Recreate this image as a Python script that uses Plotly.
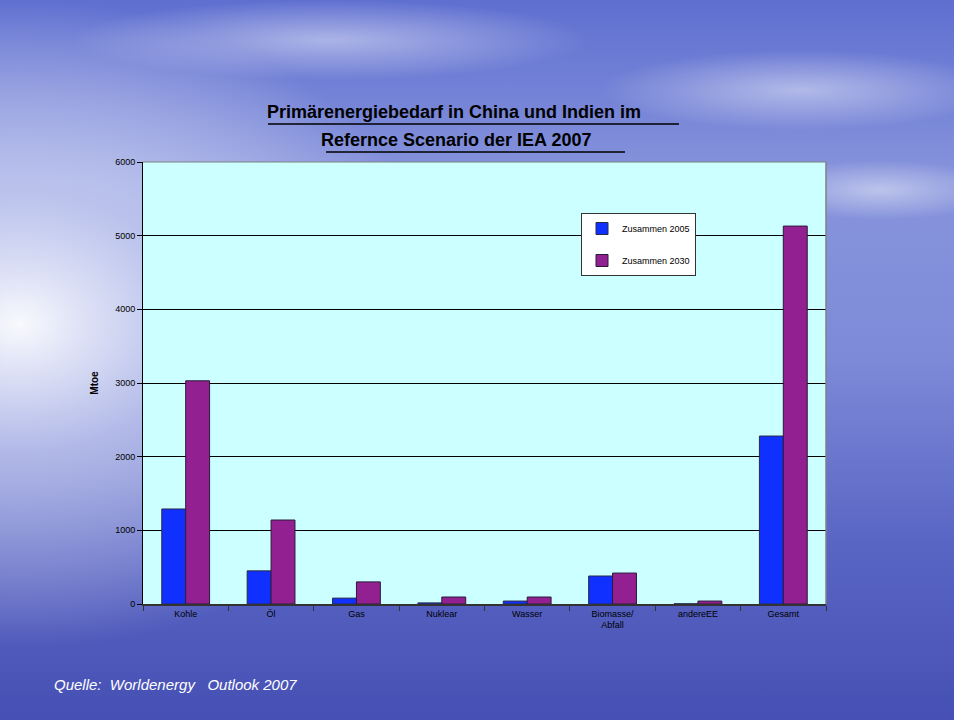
import plotly.graph_objects as go
import base64

categories = ["Kohle", "Öl", "Gas", "Nuklear", "Wasser", "Biomasse/<br>Abfall", "andereEE", "Gesamt"]
values_2005 = [1290, 450, 80, 15, 40, 380, 3, 2280]
values_2030 = [3030, 1140, 300, 95, 95, 420, 40, 5130]
series_names = ["Zusammen 2005", "Zusammen 2030"]
y_ticks = [0, 1000, 2000, 3000, 4000, 5000, 6000]

svg = """<svg xmlns='http://www.w3.org/2000/svg' width='954' height='720'>
<defs>
<linearGradient id='g' x1='0' y1='0' x2='0' y2='1'>
<stop offset='0' stop-color='#5f6fd0'/>
<stop offset='0.25' stop-color='#8794dc'/>
<stop offset='0.5' stop-color='#7d8ad8'/>
<stop offset='0.75' stop-color='#5a66c4'/>
<stop offset='1' stop-color='#4650b4'/>
</linearGradient>
<radialGradient id='r' cx='0.02' cy='0.45' r='0.45'>
<stop offset='0' stop-color='#ffffff' stop-opacity='0.95'/>
<stop offset='0.4' stop-color='#dfe3f8' stop-opacity='0.6'/>
<stop offset='1' stop-color='#ffffff' stop-opacity='0'/>
</radialGradient>
<radialGradient id='c' cx='0.5' cy='0.5' r='0.5'>
<stop offset='0' stop-color='#ffffff' stop-opacity='0.45'/>
<stop offset='1' stop-color='#ffffff' stop-opacity='0'/>
</radialGradient>
</defs>
<rect width='954' height='720' fill='url(#g)'/>
<rect width='954' height='720' fill='url(#r)'/>
<ellipse cx='330' cy='40' rx='260' ry='40' fill='url(#c)'/>
<ellipse cx='800' cy='90' rx='200' ry='40' fill='url(#c)'/>
<ellipse cx='880' cy='190' rx='120' ry='30' fill='url(#c)'/>
<rect x='143' y='162' width='683' height='442' fill='#ccffff'/>
</svg>"""
bg_src = "data:image/svg+xml;base64," + base64.b64encode(svg.encode()).decode()

fig = go.Figure()
fig.add_trace(go.Bar(x=categories, y=values_2005, name=series_names[0], legendgroup="a",
                     marker=dict(color="#1030ff", line=dict(color="#2a2a4a", width=1))))
fig.add_trace(go.Bar(x=categories, y=values_2030, name=series_names[1], legendgroup="b",
                     marker=dict(color="#922090", line=dict(color="#2a1a3a", width=1))))

fig.update_layout(
    width=954, height=720,
    margin=dict(l=143, r=128, t=162, b=116),
    paper_bgcolor="#6a78cc",
    plot_bgcolor="rgba(0,0,0,0)",
    barmode="group", bargap=0.44, bargroupgap=0,
    font=dict(family="Liberation Sans, Arial, sans-serif", color="black"),
    showlegend=True,
    legend=dict(x=(581-143)/683, y=(604-213)/442, xanchor="left", yanchor="top",
                bgcolor="white", bordercolor="#333333", borderwidth=1,
                font=dict(size=9), tracegroupgap=13, itemwidth=30),
    images=[dict(source=bg_src, xref="paper", yref="paper", x=-143/683, y=1+162/442,
                 sizex=954/683, sizey=720/442, xanchor="left", yanchor="top",
                 sizing="stretch", layer="below")],
    xaxis=dict(tickson="boundaries", ticks="outside", ticklen=5, tickcolor="#333",
               showline=True, linecolor="#333", linewidth=1.5,
               tickfont=dict(size=9, color="black"), showgrid=False),
    yaxis=dict(range=[0, 6000], tickvals=y_ticks, ticks="outside", ticklen=5,
               tickcolor="black", showline=True, linecolor="black", linewidth=1,
               gridcolor="black", gridwidth=1, zeroline=False,
               tickfont=dict(size=9, color="black"),
               title=dict(text="<b>Mtoe</b>", font=dict(size=10, color="black"), standoff=14)),
)

fig.add_shape(type="line", xref="paper", yref="paper", x0=1, x1=1, y0=0, y1=1,
              line=dict(color="#808080", width=1.5))
fig.add_shape(type="line", xref="paper", yref="paper", x0=0, x1=1, y0=1, y1=1,
              line=dict(color="#808080", width=1))

# Title lines with underlines
fig.add_annotation(text="<b>Primärenergiebedarf in China und Indien im</b>",
                   xref="paper", yref="paper", x=(454-143)/683, y=(604-112)/442,
                   showarrow=False, font=dict(size=18, color="black"),
                   xanchor="center", yanchor="middle")
fig.add_annotation(text="<b>Refernce Scenario der IEA 2007</b>",
                   xref="paper", yref="paper", x=(456-143)/683, y=(604-140)/442,
                   showarrow=False, font=dict(size=18, color="black"),
                   xanchor="center", yanchor="middle")
fig.add_shape(type="line", xref="paper", yref="paper",
              x0=(268-143)/683, x1=(679-143)/683, y0=(604-124)/442, y1=(604-124)/442,
              line=dict(color="black", width=1.5))
fig.add_shape(type="line", xref="paper", yref="paper",
              x0=(326-143)/683, x1=(625-143)/683, y0=(604-152)/442, y1=(604-152)/442,
              line=dict(color="black", width=1.5))

fig.add_annotation(text="<i>Quelle:  Worldenergy   Outlook 2007</i>",
                   xref="paper", yref="paper", x=(52-143)/683, y=(604-684)/442,
                   showarrow=False, font=dict(size=15, color="white"),
                   xanchor="left", yanchor="middle")

fig.write_html("out.html")
